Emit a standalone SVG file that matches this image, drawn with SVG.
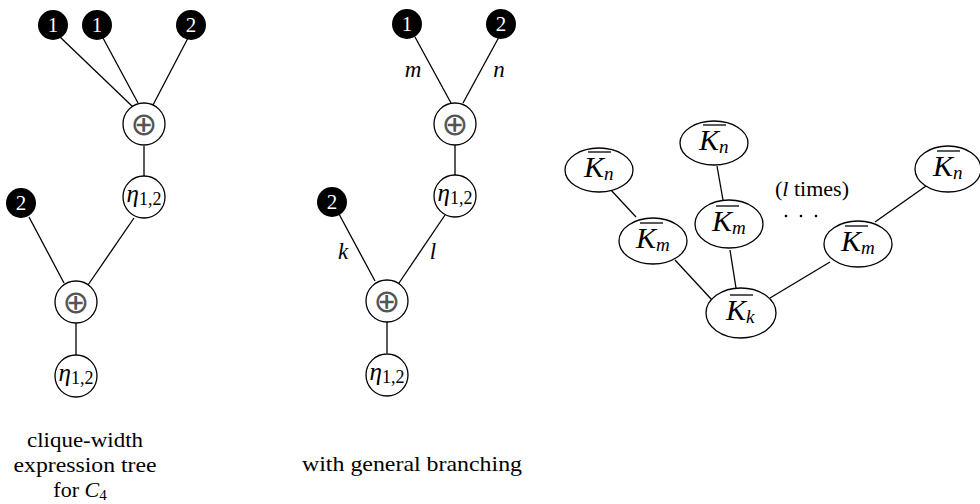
<svg xmlns="http://www.w3.org/2000/svg" width="980" height="504" viewBox="0 0 980 504">
<style>
.edge{stroke:#000;stroke-width:1.3;fill:none}
.leaf{fill:#000}
.leaf-t{fill:#fff;font-family:"Liberation Serif",serif;font-size:21px;text-anchor:middle}
.op{fill:#fff;stroke:#000;stroke-width:1.3}
.opsym{font-family:"DejaVu Sans",sans-serif;font-size:32px;text-anchor:middle;dominant-baseline:central;fill:#555}
.eta{font-family:"Liberation Serif",serif;font-size:25px;text-anchor:middle;fill:#000}
.it{font-style:italic}
.sub{font-size:18px}
.ell{fill:#fff;stroke:#000;stroke-width:1.3}
.kl{font-family:"Liberation Serif",serif;font-size:30px;fill:#000}
.ksub{font-size:19px;font-style:italic}
.bar{stroke:#000;stroke-width:1.3}
.lbl{font-family:"Liberation Serif",serif;font-size:23px;font-style:italic;text-anchor:middle}
.cap{font-family:"Liberation Serif",serif;font-size:22px;text-anchor:middle}
</style>
<g id="connectors">
<line class="edge" x1="60" y1="37" x2="133" y2="107"/>
<line class="edge" x1="103" y1="38" x2="138" y2="103"/>
<line class="edge" x1="188" y1="38" x2="153" y2="105"/>
<line class="edge" x1="144" y1="146" x2="144" y2="176"/>
<line class="edge" x1="134" y1="218" x2="88" y2="285"/>
<line class="edge" x1="29" y1="217" x2="64" y2="283"/>
<line class="edge" x1="76" y1="323" x2="76" y2="355"/>
<line class="edge" x1="415" y1="37" x2="451" y2="103"/>
<line class="edge" x1="499" y1="37" x2="463" y2="103"/>
<line class="edge" x1="455" y1="145" x2="455" y2="175"/>
<line class="edge" x1="445" y1="215" x2="399" y2="283"/>
<line class="edge" x1="339" y1="214" x2="375" y2="281"/>
<line class="edge" x1="387" y1="322" x2="387" y2="353"/>
<line class="edge" x1="610" y1="189" x2="636" y2="217"/>
<line class="edge" x1="675" y1="260" x2="712" y2="300"/>
<line class="edge" x1="717" y1="166" x2="723" y2="200"/>
<line class="edge" x1="730" y1="250" x2="736" y2="288"/>
<line class="edge" x1="770" y1="298" x2="830" y2="262"/>
<line class="edge" x1="875" y1="222" x2="926" y2="186"/>
</g>
<g id="edge-labels">
<text class="lbl" x="413" y="77">m</text>
<text class="lbl" x="499" y="77">n</text>
<text class="lbl" x="343" y="259">k</text>
<text class="lbl" x="433" y="259">l</text>
</g>
<g id="L-leaf1a"><circle class="leaf" cx="53" cy="25" r="15"/><text class="leaf-t" x="53" y="32">1</text></g>
<g id="L-leaf1b"><circle class="leaf" cx="97" cy="25" r="15"/><text class="leaf-t" x="97" y="32">1</text></g>
<g id="L-leaf2a"><circle class="leaf" cx="191" cy="25" r="15"/><text class="leaf-t" x="191" y="32">2</text></g>
<g id="L-plus1"><circle class="op" cx="144" cy="124" r="21"/><text class="opsym" x="144" y="124">⊕</text></g>
<g id="L-eta1"><circle class="op" cx="144" cy="197" r="21"/><text class="eta" x="144" y="202"><tspan class="it">η</tspan><tspan class="sub" dy="3">1,2</tspan></text></g>
<g id="L-leaf2b"><circle class="leaf" cx="21" cy="203" r="15"/><text class="leaf-t" x="21" y="210">2</text></g>
<g id="L-plus2"><circle class="op" cx="76" cy="302" r="21"/><text class="opsym" x="76" y="302">⊕</text></g>
<g id="L-eta2"><circle class="op" cx="76" cy="376" r="21"/><text class="eta" x="76" y="381"><tspan class="it">η</tspan><tspan class="sub" dy="3">1,2</tspan></text></g>
<g id="M-leaf1"><circle class="leaf" cx="407" cy="24" r="15"/><text class="leaf-t" x="407" y="31">1</text></g>
<g id="M-leaf2"><circle class="leaf" cx="501" cy="24" r="15"/><text class="leaf-t" x="501" y="31">2</text></g>
<g id="M-plus1"><circle class="op" cx="455" cy="124" r="21"/><text class="opsym" x="455" y="124">⊕</text></g>
<g id="M-eta1"><circle class="op" cx="455" cy="196" r="21"/><text class="eta" x="455" y="201"><tspan class="it">η</tspan><tspan class="sub" dy="3">1,2</tspan></text></g>
<g id="M-leaf2b"><circle class="leaf" cx="332" cy="202" r="15"/><text class="leaf-t" x="332" y="209">2</text></g>
<g id="M-plus2"><circle class="op" cx="387" cy="301" r="21"/><text class="opsym" x="387" y="301">⊕</text></g>
<g id="M-eta2"><circle class="op" cx="387" cy="375" r="21"/><text class="eta" x="387" y="380"><tspan class="it">η</tspan><tspan class="sub" dy="3">1,2</tspan></text></g>
<g id="R-Kn1"><ellipse class="ell" cx="599" cy="170" rx="34" ry="22"/><line class="bar" x1="588" y1="152" x2="611" y2="152"/><text class="kl" x="584" y="177"><tspan class="it">K</tspan><tspan class="ksub" dy="3">n</tspan></text></g>
<g id="R-Km1"><ellipse class="ell" cx="653" cy="241" rx="34" ry="23"/><line class="bar" x1="640" y1="223" x2="663" y2="223"/><text class="kl" x="636" y="248"><tspan class="it">K</tspan><tspan class="ksub" dy="3">m</tspan></text></g>
<g id="R-Kn2"><ellipse class="ell" cx="714" cy="143" rx="34" ry="22"/><line class="bar" x1="703" y1="125" x2="726" y2="125"/><text class="kl" x="699" y="150"><tspan class="it">K</tspan><tspan class="ksub" dy="3">n</tspan></text></g>
<g id="R-Km2"><ellipse class="ell" cx="729" cy="224" rx="34" ry="24"/><line class="bar" x1="716" y1="206" x2="739" y2="206"/><text class="kl" x="712" y="231"><tspan class="it">K</tspan><tspan class="ksub" dy="3">m</tspan></text></g>
<g id="R-Kk"><ellipse class="ell" cx="741" cy="313" rx="35" ry="25"/><line class="bar" x1="730" y1="295" x2="753" y2="295"/><text class="kl" x="726" y="320"><tspan class="it">K</tspan><tspan class="ksub" dy="3">k</tspan></text></g>
<g id="R-Km3"><ellipse class="ell" cx="858" cy="244" rx="34" ry="23"/><line class="bar" x1="845" y1="226" x2="868" y2="226"/><text class="kl" x="841" y="251"><tspan class="it">K</tspan><tspan class="ksub" dy="3">m</tspan></text></g>
<g id="R-Kn3"><ellipse class="ell" cx="948" cy="169" rx="33" ry="23"/><line class="bar" x1="937" y1="151" x2="960" y2="151"/><text class="kl" x="933" y="176"><tspan class="it">K</tspan><tspan class="ksub" dy="3">n</tspan></text></g>
<g id="R-note">
<text class="cap" x="812" y="196" font-size="22">(<tspan class="it">l</tspan> times)</text>
<circle cx="786" cy="216" r="1.3"/><circle cx="801" cy="216" r="1.3"/><circle cx="816" cy="216" r="1.3"/>
</g>
<g id="captions">
<text class="cap" x="85" y="447" textLength="116" lengthAdjust="spacingAndGlyphs">clique-width</text>
<text class="cap" x="85" y="472" textLength="143" lengthAdjust="spacingAndGlyphs">expression tree</text>
<text class="cap" x="80" y="497">for <tspan class="it">C</tspan><tspan font-size="15" dy="3">4</tspan></text>
<text class="cap" x="412" y="471" textLength="220" lengthAdjust="spacingAndGlyphs">with general branching</text>
</g>
</svg>
